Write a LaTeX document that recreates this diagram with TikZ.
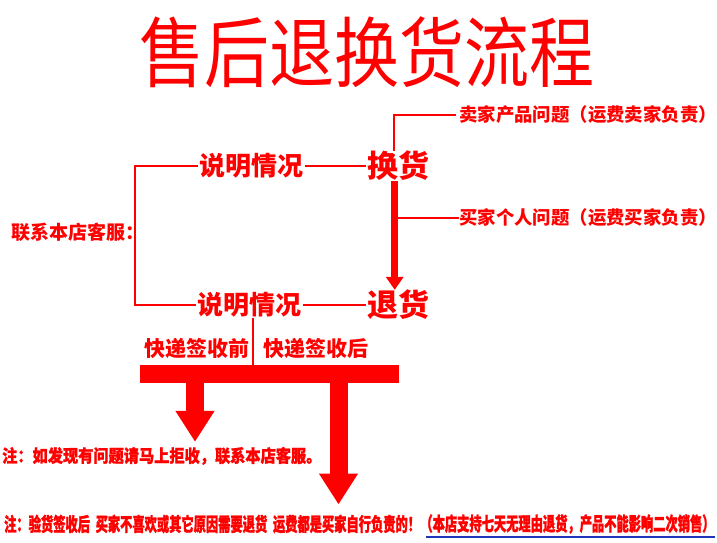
\documentclass[tikz,border=0pt]{standalone}
\usepackage{fontspec}
\setmainfont{Noto Sans CJK SC}
\newfontfamily\heavy[BoldFeatures={FakeBold=1.2}]{Noto Sans CJK SC}
\newfontfamily\narrow[FakeStretch=0.645,BoldFeatures={FakeBold=1.2}]{Noto Sans CJK SC}
\usetikzlibrary{positioning,arrows.meta}
\definecolor{flow}{HTML}{FF0000}
\definecolor{linkblue}{HTML}{2233BB}

\begin{document}
\begin{tikzpicture}[x=1pt,y=-1pt,
     lbl/.style={text=flow,inner ysep=0pt,inner xsep=1.5pt,font=\bfseries\fontsize{#1}{#1}\selectfont},
     note/.style={text=flow,inner sep=0pt,font=\heavy\bfseries\fontsize{#1}{#1}\selectfont},
     slim/.style={text=flow,inner sep=0pt,font=\narrow\bfseries\fontsize{#1}{#1}\selectfont},
     thin/.style={draw=flow,line width=1.8pt},
     fat/.style={draw=flow,line width=7.5pt,-{Triangle[width=17pt,length=13pt]}},
     big/.style={draw=flow,line width=18pt,-{Triangle[width=37pt,length=31pt]}}]
    \useasboundingbox (0,0) rectangle (717,543);
    \node[text=flow,inner sep=0pt,font=\fontsize{65}{65}\selectfont](title) at (367,52){\scalebox{1}[1.18]{售后退换货流程}};
    \node[lbl=19,anchor=west](contact) at (10,232){联系本店客服：};
    \node[lbl=26,anchor=west](exp1) at (198,166){说明情况};  \node[lbl=31,anchor=west](swap) at (366,166){换货};
    \node[lbl=26,anchor=west](exp2) at (196,305){说明情况};  \node[lbl=31,anchor=west](ret) at (366,305){退货};
    \node[lbl=18.4,anchor=west,inner xsep=0pt](seller) at (459,115){卖家产品问题（运费卖家负责）};
    \node[lbl=18.4,anchor=west,inner xsep=0pt](buyer) at (459,218){买家个人问题（运费买家负责）};
    \node[lbl=21,anchor=east](before) at (251,348){快递签收前};
    \node[lbl=21,anchor=west](after) at (262,348){快递签收后};
    \node[fill=flow,minimum width=259pt,minimum height=18pt,inner sep=0pt](bar) at (269.5,374){};
    \node[note=15.2,anchor=west](note1) at (2,456){\scalebox{1}[1.15]{注：如发现有问题请马上拒收，联系本店客服。}};
    \node[slim=19,anchor=west](note2) at (4,524){注：验货签收后\hspace{5.7pt}买家不喜欢或其它原因需要退货\hspace{5.7pt}运费都是买家自行负责的！};
    \node[slim=19,anchor=west](rule) at (note2.east){（本店支持七天无理由退货，产品不能影响二次销售）};
    % bracket and exchange / return branches
    \coordinate(brk) at (135,232);
    \draw[thin](exp1.west) -| (brk) |- (exp2.west);
    \draw[thin](exp1)--(swap);  \draw[thin](exp2)--(ret);
    \coordinate(shaft) at ([xshift=-4pt]swap.south);
    \draw[thin]([xshift=-3pt]seller.west) -| ([xshift=-5pt]swap.north);
    \draw[fat](shaft)--(shaft |- ret.north);
    \draw[thin](buyer.west)--(buyer.west -| shaft);
    % delivery split
    \draw[thin]([xshift=3pt]exp2.south)--([xshift=3pt]exp2.south |- bar.north);
    \coordinate(drop1) at (195,0);  \coordinate(drop2) at (338.5,0);
    \draw[big,shorten >=5pt](bar.south -| drop1)--(note1.north -| drop1);
    \draw[big,shorten >=10pt](bar.south -| drop2)--(note2.north -| drop2);
    \draw[linkblue,line width=1.5pt]([xshift=6pt,yshift=-3pt]rule.south west)--([yshift=-3pt]rule.south east);
  \end{tikzpicture}
\end{document}
